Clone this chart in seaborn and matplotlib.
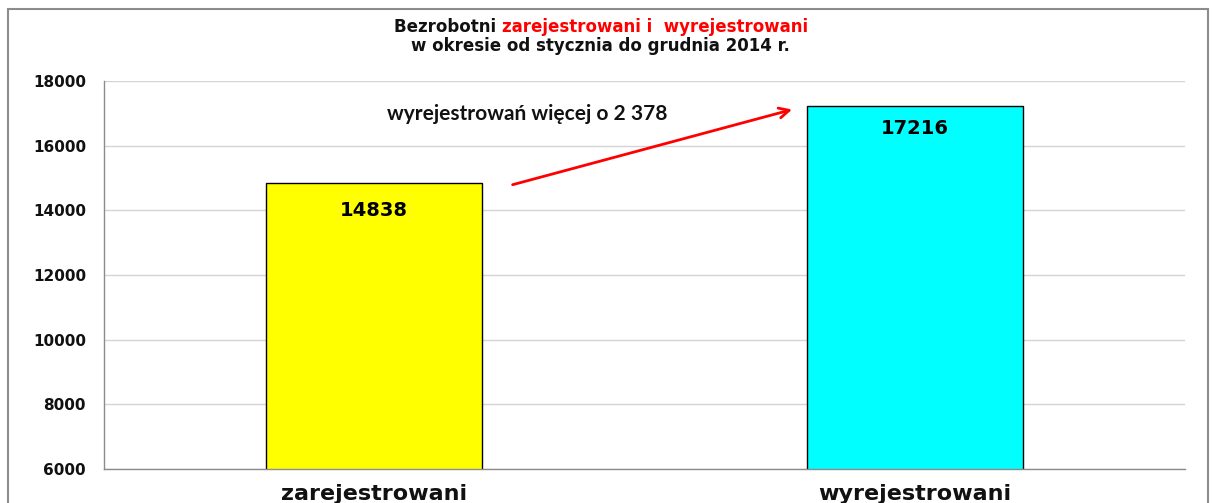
import matplotlib
matplotlib.use('Agg')
import matplotlib.pyplot as plt
import matplotlib.patches as mpatches
import seaborn as sns
import pandas as pd

# ── Data ────────────────────────────────────────────────────────────────────
categories = ['zarejestrowani', 'wyrejestrowani']
values = [14838, 17216]
bar_colors = ['#ffff00', '#00ffff']
y_ticks = [6000, 8000, 10000, 12000, 14000, 16000, 18000]
note_text = 'wyrejestrowań więcej o 2 378'
arrow_start = (0.251, 14770)
arrow_end = (0.778, 17140)

df = pd.DataFrame({'kat': categories, 'liczba': values})

sns.set_style('white')
plt.rcParams['font.family'] = ['DejaVu Sans']

W, H = 1213, 503
fig = plt.figure(figsize=(W / 100, H / 100), dpi=100)
ax = fig.add_axes([104 / W, 1 - 469 / H, (1185 - 104) / W, (469 - 81) / H])

sns.barplot(data=df, x='kat', y='liczba', hue='kat', palette=bar_colors,
            legend=False, width=0.4, edgecolor='black', linewidth=1.0,
            saturation=1, ax=ax)

ax.set_ylim(6000, 18000)
ax.set_xlim(-0.5, 1.5)
ax.set_yticks(y_ticks)
ax.set_yticklabels([str(v) for v in y_ticks], fontsize=11, fontweight='bold',
                   color='#111111')
ax.yaxis.grid(True, color='#d4d4d4', linewidth=1.0)
ax.set_axisbelow(True)
ax.set_xlabel('')
ax.set_ylabel('')

for s in ['top', 'right']:
    ax.spines[s].set_visible(False)
for s in ['left', 'bottom']:
    ax.spines[s].set_color('#8c8c8c')
    ax.spines[s].set_linewidth(1.0)

ax.tick_params(axis='y', direction='out', length=6, color='#8c8c8c', pad=7)
ax.set_xticks([0, 1])
ax.set_xticklabels(categories, fontsize=16, fontweight='bold', color='#111111')
ax.tick_params(axis='x', which='major', length=0, pad=11)
ax.set_xticks([-0.5, 0.5, 1.5], minor=True)
ax.tick_params(axis='x', which='minor', direction='out', length=5, color='#8c8c8c')

# value labels inside bars
for i, v in enumerate(values):
    off = 850 if i == 0 else 700
    ax.text(i, v - off, str(v), ha='center', va='center',
            fontsize=14, fontweight='bold', color='black')

# difference note and arrow
ax.text(0.283, 16985, note_text, ha='center', va='center', fontsize=15,
        fontweight='bold', family=['Lato', 'DejaVu Sans'], color='#111111')
ax.annotate('', xy=arrow_end, xytext=arrow_start,
            arrowprops=dict(arrowstyle='->', color='#ff0000', lw=2,
                            mutation_scale=18))

# two-colour title, line 1 centred at x = 600 px
t1 = fig.text(0, 1 - 27 / H, 'Bezrobotni ', ha='left', va='center',
              fontsize=12, fontweight='bold', color='#111111')
t2 = fig.text(0, 1 - 27 / H, 'zarejestrowani i  wyrejestrowani', ha='left',
              va='center', fontsize=12, fontweight='bold', color='#ff0000')
fig.canvas.draw()
w1 = t1.get_window_extent().width
w2 = t2.get_window_extent().width
x0 = 601 - (w1 + w2) / 2
t1.set_x(x0 / W)
t2.set_x((x0 + w1) / W)
fig.text(600 / W, 1 - 46 / H, 'w okresie od stycznia do grudnia 2014 r.',
         ha='center', va='center', fontsize=12, fontweight='bold', color='#111111')

# outer frame
frame = mpatches.Rectangle((8 / W, -0.05), (1208 - 8) / W, 1.05 - 9 / H,
                           transform=fig.transFigure, fill=False,
                           edgecolor='#8c8c8c', linewidth=1.5)
fig.patches.append(frame)

fig.savefig('out.png', dpi=100, facecolor='white')
